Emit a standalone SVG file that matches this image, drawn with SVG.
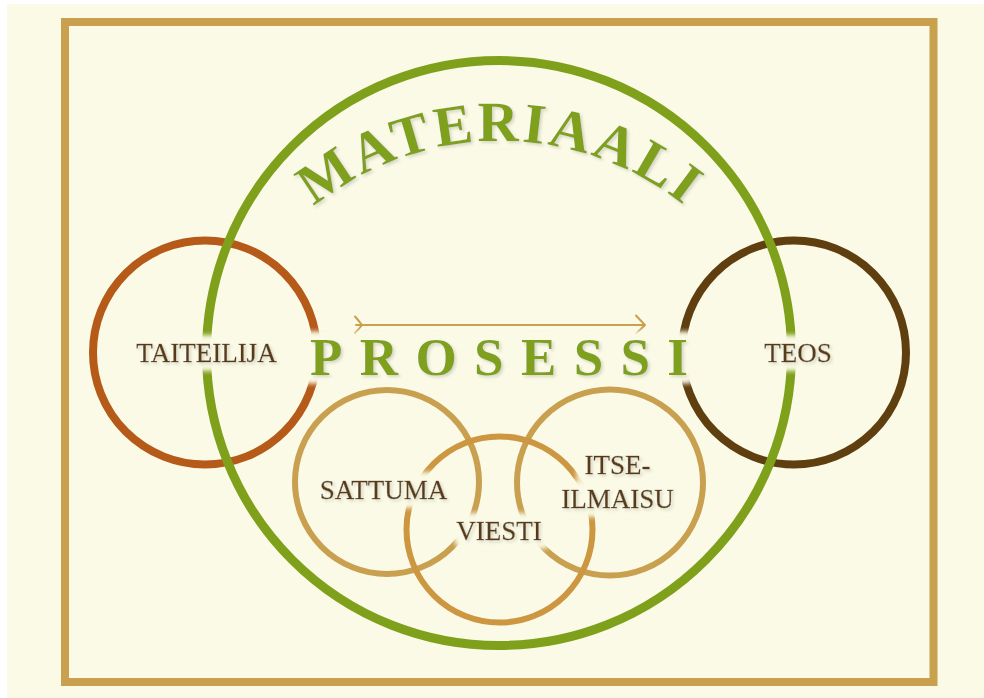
<svg xmlns="http://www.w3.org/2000/svg" width="984" height="698" viewBox="0 0 984 698">
<defs>
<style>
.lbl{font-family:"Liberation Serif","Times New Roman",serif;font-size:27px;fill:#5A3A14;stroke:#5A3A14;stroke-width:0.35;}
.ring{fill:none;}
.big{font-family:"Liberation Serif","Times New Roman",serif;font-weight:bold;fill:#7FA01A;}
</style>
<filter id="glow" x="-30%" y="-120%" width="160%" height="340%">
<feMorphology in="SourceAlpha" operator="dilate" radius="6" result="d"/>
<feGaussianBlur in="d" stdDeviation="3" result="db"/>
<feFlood flood-color="#FAFAE6"/>
<feComposite in2="db" operator="in" result="gl"/>
<feGaussianBlur in="SourceAlpha" stdDeviation="1.5" result="sb"/>
<feOffset in="sb" dx="2" dy="2" result="so"/>
<feFlood flood-color="#000" flood-opacity="0.3"/>
<feComposite in2="so" operator="in" result="sh"/>
<feMerge><feMergeNode in="gl"/><feMergeNode in="gl"/><feMergeNode in="gl"/><feMergeNode in="sh"/><feMergeNode in="SourceGraphic"/></feMerge>
</filter>
<path id="arch" d="M 205,436 A 295 295 0 0 1 795,436"/>
</defs>
<rect x="0" y="0" width="984" height="698" fill="#FFFFFF"/>
<rect x="7" y="4" width="977" height="694" fill="#FAFAE6"/>
<rect x="65" y="22" width="868.5" height="660" fill="none" stroke="#C8A04E" stroke-width="8"/>

<g id="taiteilija-ring"><circle class="ring" cx="205" cy="352.5" r="112" stroke="#B55A19" stroke-width="8"/></g>
<g id="teos-ring"><circle class="ring" cx="794" cy="352.5" r="112" stroke="#5F3F0F" stroke-width="8"/></g>
<g id="materiaali-ring"><circle class="ring" cx="499" cy="353" r="292.5" stroke="#7FA01A" stroke-width="9"/></g>
<g id="sattuma-ring"><circle class="ring" cx="387" cy="482" r="92" stroke="#C9A050" stroke-width="6"/></g>
<g id="itseilmaisu-ring"><circle class="ring" cx="610" cy="482.5" r="93" stroke="#C9A050" stroke-width="6"/></g>
<g id="viesti-ring"><circle class="ring" cx="499.5" cy="529.5" r="93" stroke="#CD9640" stroke-width="6"/></g>

<g id="connectors" fill="none" stroke="#C8A04E" stroke-width="2" stroke-linecap="round" stroke-linejoin="round">
<path d="M 356,325 L 644,325"/>
<path d="M 355,316.5 Q 359,321 362,325 Q 359,329 355,333"/>
<path d="M 636,315.5 Q 641,321 645,325 Q 641,329 636,333.5"/>
</g>

<g id="materiaali" filter="url(#glow)">
<text class="big" font-size="57" letter-spacing="3" text-anchor="middle"><textPath href="#arch" startOffset="50%">MATERIAALI</textPath></text>
</g>
<g id="prosessi" filter="url(#glow)">
<text class="big" x="310" y="375" font-size="53" textLength="378" lengthAdjust="spacing">PROSESSI</text>
</g>
<g id="taiteilija" filter="url(#glow)"><text class="lbl" x="206.5" y="362" text-anchor="middle">TAITEILIJA</text></g>
<g id="teos" filter="url(#glow)"><text class="lbl" x="798" y="362" text-anchor="middle">TEOS</text></g>
<g id="sattuma" filter="url(#glow)"><text class="lbl" x="383.5" y="499" text-anchor="middle">SATTUMA</text></g>
<g id="viesti" filter="url(#glow)"><text class="lbl" x="499" y="540" text-anchor="middle">VIESTI</text></g>
<g id="itseilmaisu" filter="url(#glow)"><text class="lbl" x="617.5" y="474" text-anchor="middle">ITSE-</text><text class="lbl" x="617.5" y="508" text-anchor="middle">ILMAISU</text></g>
</svg>
